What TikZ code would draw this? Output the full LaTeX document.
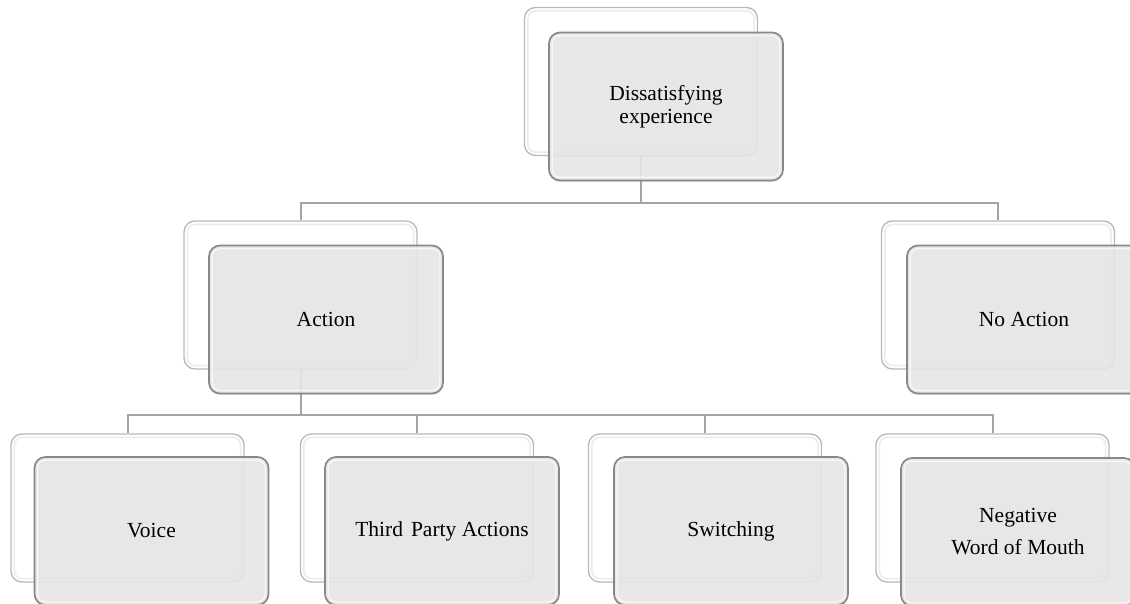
\documentclass[tikz,border=0pt]{standalone}
\usepackage{fontspec}
\setmainfont{Liberation Serif}
\usetikzlibrary{shadows}
\definecolor{frontfill}{HTML}{E8E8E8}
\definecolor{frontdraw}{HTML}{888888}
\definecolor{backdraw}{HTML}{B8B8B8}
\definecolor{linkcol}{HTML}{A4A4A4}
\begin{document}
\begin{tikzpicture}[x=1pt,y=-1pt,
 backbox/.style={draw=backdraw, line width=1.3pt, fill=white, rounded corners=11pt, minimum width=233pt, minimum height=148pt, inner sep=0pt},
 frontbox/.style={draw=frontdraw, line width=1.7pt, fill=frontfill, fill opacity=0.88, text opacity=1, rounded corners=11pt, minimum width=234pt, minimum height=148pt, inner sep=0pt, align=center, font=\fontsize{21.5}{23}\selectfont, drop shadow={opacity=0.2, shadow xshift=0pt, shadow yshift=-1.5pt}},
 link/.style={draw=linkcol, line width=2pt},
 hilite/.style={draw=white, line width=1.2pt, opacity=0.75, rounded corners=8pt},
 backshade/.style={draw=black!8, line width=1.5pt, rounded corners=8pt}]
\useasboundingbox (0,0) rectangle (1130,604);
% back boxes
\node[backbox] (topB) at (641,81.5) {};
\node[backbox] (actB) at (300.5,295) {};
\node[backbox] (noB) at (998,295) {};
\node[backbox] (voiceB) at (127.5,508) {};
\node[backbox] (thirdB) at (417,508) {};
\node[backbox] (switchB) at (705,508) {};
\node[backbox] (negB) at (992.5,508) {};
\foreach \n in {topB,actB,noB,voiceB,thirdB,switchB,negB}
  \draw[backshade] ([shift={(4,4)}]\n.north west) rectangle ([shift={(-4,-4)}]\n.south east);
% connectors
\draw[link] (topB.south) -- ++(0,47) -| (actB.north);
\draw[link] (topB.south) -- ++(0,47) -| (noB.north);
\draw[link] (actB.south) -- ++(0,45) -| (voiceB.north);
\draw[link] (actB.south) -- ++(0,45) -| (thirdB.north);
\draw[link] (actB.south) -- ++(0,45) -| (switchB.north);
\draw[link] (actB.south) -- ++(0,45) -| (negB.north);
% front boxes
\node[frontbox] (topF) at (666,106.5) {\raisebox{-2pt}{\parbox{200pt}{\centering Dissatisfying\\experience}}};
\node[frontbox] (actF) at (326,319.5) {Action};
\node[frontbox] (noF) at (1024,319.5) {No Action};
\node[frontbox] (voiceF) at (151.5,531) {Voice};
\node[frontbox] (thirdF) at (442,531) {Third\hspace{2.5pt} Party Actions};
\node[frontbox] (switchF) at (731,531) {Switching};
\node[frontbox, font=\fontsize{21.5}{32}\selectfont] (negF) at (1018,532) {Negative\\Word of Mouth};
\foreach \n in {topF,actF,noF,voiceF,thirdF,switchF,negF}
  \draw[hilite] ([shift={(4,4)}]\n.north west) rectangle ([shift={(-4,-4)}]\n.south east);
\end{tikzpicture}
\end{document}
